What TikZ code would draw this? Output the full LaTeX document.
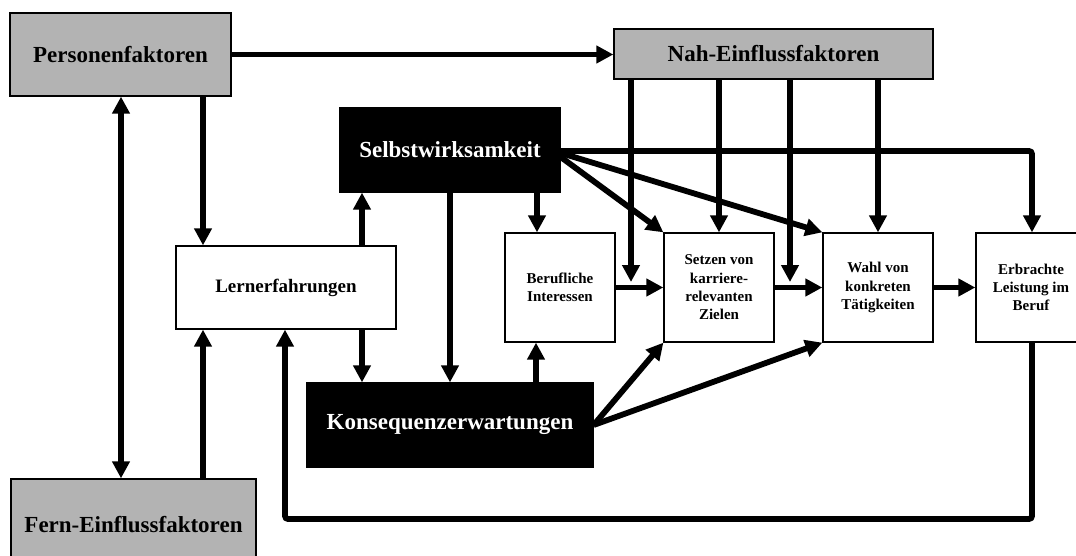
\documentclass[tikz,border=0pt]{standalone}
\usepackage{fontspec}
\setmainfont{Liberation Serif}
\usetikzlibrary{arrows.meta,calc}
\definecolor{boxgray}{RGB}{179,179,179}
\begin{document}
\begin{tikzpicture}[x=1pt,y=-1pt,
  arr/.style={line width=5.8pt,-{Triangle[length=17pt,width=17pt]}},
  biarr/.style={line width=5.8pt,{Triangle[length=17pt,width=17pt]}-{Triangle[length=17pt,width=17pt]}},
  graybox/.style={draw,line width=1.3pt,fill=boxgray,inner sep=0pt,font=\fontsize{23}{27}\selectfont\bfseries},
  blackbox/.style={draw,line width=1.3pt,fill=black,text=white,inner sep=0pt,font=\fontsize{23}{27}\selectfont\bfseries},
  whitebox/.style={draw,line width=1.3pt,fill=white,inner sep=0pt,align=center,font=\fontsize{15}{18.3}\selectfont\bfseries},
]
\useasboundingbox (0,0) rectangle (1076,556);

% boxes
\node[graybox,minimum width=221pt,minimum height=83pt] (P) at (120.5,54.5) {Personenfaktoren};
\node[graybox,minimum width=319pt,minimum height=50pt] (N) at (773.5,54) {Nah-Einflussfaktoren};
\node[graybox,minimum width=245pt,minimum height=92pt] (F) at (133.5,525) {Fern-Einflussfaktoren};
\node[blackbox,minimum width=220pt,minimum height=84pt] (S) at (450,150) {Selbstwirksamkeit};
\node[blackbox,minimum width=286pt,minimum height=84pt] (K) at (450,425) {Konsequenzerwartungen};
\node[whitebox,minimum width=220pt,minimum height=83pt,font=\fontsize{19}{22}\selectfont\bfseries] (L) at (286,287.5) {Lernerfahrungen};
\node[whitebox,minimum width=110pt,minimum height=109pt] (B) at (560,287.5) {Berufliche\\Interessen};
\node[whitebox,minimum width=110pt,minimum height=109pt] (Z) at (719,287.5) {Setzen von\\karriere-\\relevanten\\Zielen};
\node[whitebox,minimum width=110pt,minimum height=109pt] (W) at (878,287.5) {Wahl von\\konkreten\\Tätigkeiten};
\node[whitebox,minimum width=110pt,minimum height=109pt] (E) at (1031,287.5) {Erbrachte\\Leistung im\\Beruf};

% free ends
\coordinate (n1) at (631,282);
\coordinate (n3) at (790,282);

% left part
\draw[arr] (P.east) -- (P.east -| N.west);
\draw[biarr] (P.south -| 121,0) -- (F.north -| 121,0);
\draw[arr] (P.south -| 203,0) -- (L.north -| 203,0);
\draw[arr] (F.north -| 203,0) -- (L.south -| 203,0);
\draw[arr] (L.north -| 362,0) -- (S.south -| 362,0);
\draw[arr] (L.south -| 362,0) -- (K.north -| 362,0);
\draw[arr] (S.south) -- (K.north);
\draw[arr] (S.south -| 537,0) -- (B.north -| 537,0);
\draw[arr] (K.north -| 536,0) -- (B.south -| 536,0);

% Nah-Einflussfaktoren
\draw[arr] (N.south -| n1) -- (n1);
\draw[arr] (N.south -| Z.north) -- (Z.north);
\draw[arr] (N.south -| n3) -- (n3);
\draw[arr] (N.south -| W.north) -- (W.north);

% chain
\draw[arr] (B.east) -- (Z.west);
\draw[arr] (Z.east) -- (W.west);
\draw[arr] (W.east) -- (E.west);

% Selbstwirksamkeit
\draw[arr,rounded corners=3pt] (S.east |- 0,151) -- (1032,151) -- (E.north -| 1032,0);
\draw[arr] (S.east |- 0,157) -- (Z.north west);
\draw[arr] (S.east |- 0,153) -- (W.north west);

% Konsequenzerwartungen
\draw[arr] (K.east |- 0,425) -- (Z.south west);
\draw[arr] (K.east |- 0,425) -- (W.south west);

% feedback
\draw[arr,rounded corners=3pt] (E.south -| 1032,0) -- (1032,519) -- (285,519) -- (L.south -| 285,0);
\end{tikzpicture}
\end{document}
